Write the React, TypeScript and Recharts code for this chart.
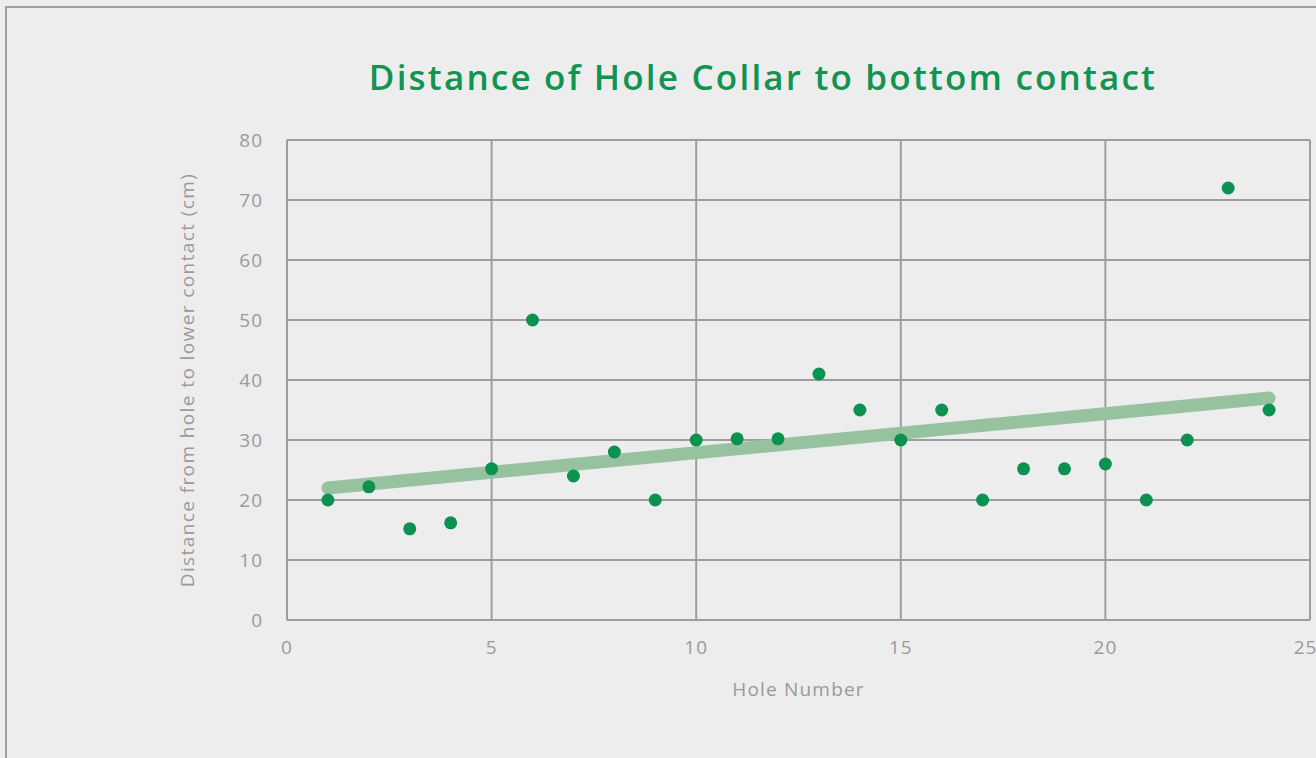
import {
  ScatterChart,
  Scatter,
  XAxis,
  YAxis,
  CartesianGrid,
} from "recharts";

const holeNumbers = [1, 2, 3, 4, 5, 6, 7, 8, 9, 10, 11, 12, 13, 14, 15, 16, 17, 18, 19, 20, 21, 22, 23, 24];
const distances = [20, 22.2, 15.2, 16.2, 25.2, 50, 24, 28, 20, 30, 30.2, 30.2, 41, 35, 30, 35, 20, 25.2, 25.2, 26, 20, 30, 72, 35];

// linear trend, end points
const trendX = [1, 24];
const trendY = [22, 37];

const xTicks = [0, 5, 10, 15, 20, 25];
const yTicks = [0, 10, 20, 30, 40, 50, 60, 70, 80];

const GREEN = "#0b9150";
const TREND = "#97c29f";
const GRID = "#9d9d9d";
const MUTED = "#9a9a9a";
const FONT = "'Open Sans', sans-serif";

const points = holeNumbers.map((x, i) => ({ x, y: distances[i] }));
const trend = trendX.map((x, i) => ({ x, y: trendY[i] }));

export default function App() {
  return (
    <div
      style={{
        position: "absolute",
        left: 0,
        top: 0,
        width: 1316,
        height: 758,
        background: "#ededed",
        overflow: "hidden",
        fontFamily: FONT,
      }}
    >
      <div
        style={{
          position: "absolute",
          left: 5,
          top: 6,
          width: 1330,
          height: 770,
          border: "2px solid #9f9f9f",
        }}
      />
      <div
        style={{
          position: "absolute",
          left: 0,
          top: 52,
          width: 1526,
          textAlign: "center",
          fontSize: 35,
          color: "#119352",
          fontWeight: 600,
          letterSpacing: 2.2,
          lineHeight: "50px",
        }}
      >
        Distance of Hole Collar to bottom contact
      </div>
      <div style={{ position: "absolute", left: 0, top: 0 }}>
        <ScatterChart
          width={1316}
          height={758}
          margin={{ top: 140, right: 6, bottom: 38, left: 0 }}
        >
          <CartesianGrid stroke={GRID} strokeWidth={2} horizontal vertical />
          <XAxis
            type="number"
            dataKey="x"
            domain={[0, 25]}
            ticks={xTicks}
            height={100}
            tickSize={0}
            tickMargin={21}
            axisLine={{ stroke: GRID, strokeWidth: 2 }}
            tickLine={false}
            tick={{ fill: MUTED, fontSize: 19, fontFamily: FONT, letterSpacing: 1 }}
            label={{
              value: "Hole Number",
              position: "insideBottom",
              offset: 24,
              fill: MUTED,
              fontSize: 19,
              fontFamily: FONT,
              style: { letterSpacing: 1.2 },
            }}
          />
          <YAxis
            type="number"
            dataKey="y"
            domain={[0, 80]}
            ticks={yTicks}
            width={287}
            tickSize={0}
            tickMargin={24}
            axisLine={{ stroke: GRID, strokeWidth: 2 }}
            tickLine={false}
            tick={{ fill: MUTED, fontSize: 19, fontFamily: FONT, letterSpacing: 1 }}
            label={{
              value: "Distance from hole to lower contact (cm)",
              angle: -90,
              position: "insideLeft",
              offset: 187,
              fill: MUTED,
              fontSize: 19,
              fontFamily: FONT,
              style: { textAnchor: "middle", letterSpacing: 1.4 },
            }}
          />
          <Scatter
            data={trend}
            line={{ stroke: TREND, strokeWidth: 13, strokeLinecap: "round" }}
            shape={() => null}
            isAnimationActive={false}
          />
          <Scatter
            data={points}
            fill={GREEN}
            shape={(p: any) => <circle cx={p.cx} cy={p.cy} r={6.5} fill={GREEN} />}
            isAnimationActive={false}
          />
        </ScatterChart>
      </div>
    </div>
  );
}
